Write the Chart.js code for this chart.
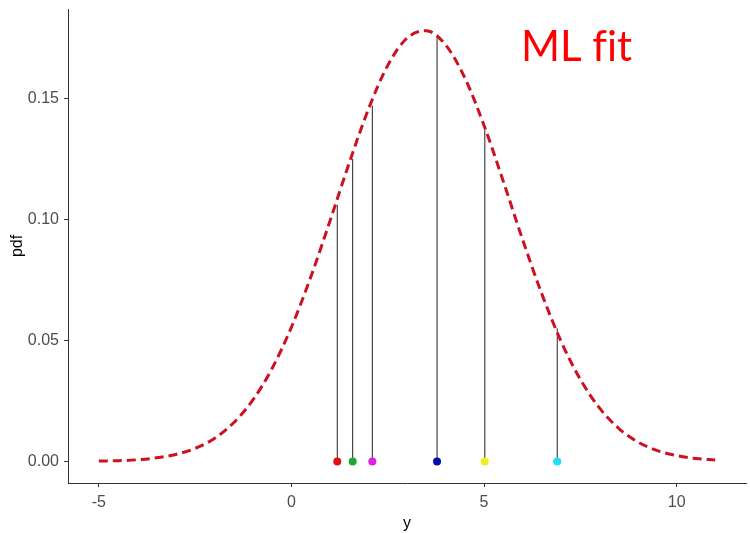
<!DOCTYPE html>
<html>
<head>
<meta charset="utf-8">
<script src="https://cdn.jsdelivr.net/npm/chart.js@4/dist/chart.umd.min.js"></script>
<style>
  html, body { margin: 0; padding: 0; background: #fff; }
  #wrap { width: 750px; height: 533px; }
</style>
</head>
<body>
<div id="wrap"><canvas id="c" width="750" height="533"></canvas></div>
<script>
// Fitted normal density, sampled along y
const curveX = [-5, -4.5, -4, -3.5, -3, -2.5, -2, -1.5, -1, -0.5, 0, 0.5, 1, 1.5, 2, 2.5, 3,
                3.5, 4, 4.5, 5, 5.5, 6, 6.5, 7, 7.5, 8, 8.5, 9, 9.5, 10, 10.5, 11];
const curvePdf = [0.0002, 0.0003, 0.0007, 0.0015, 0.0029, 0.0054, 0.0095, 0.0160, 0.0254, 0.0385,
                  0.0555, 0.0761, 0.0993, 0.1233, 0.1456, 0.1636, 0.1749, 0.1779, 0.1721, 0.1585,
                  0.1388, 0.1157, 0.0917, 0.0692, 0.0496, 0.0339, 0.0220, 0.0136, 0.0080, 0.0045,
                  0.0024, 0.0012, 0.0006];

// Observations and their density under the fit
const obsY = [1.19, 1.59, 2.10, 3.78, 5.02, 6.90];
const obsPdf = [0.106, 0.125, 0.147, 0.175, 0.137, 0.055];
const obsColors = ['#E01010', '#20A830', '#E020E0', '#0010B0', '#F0F020', '#20E0F0'];

const xTicks = [-5, 0, 5, 10];
const yTicks = [0, 0.05, 0.10, 0.15];

const curvePoints = curveX.map((x, i) => ({ x: x, y: curvePdf[i] }));
const stemPoints = [];
obsY.forEach((x, i) => {
  stemPoints.push({ x: x, y: 0 }, { x: x, y: obsPdf[i] }, { x: x, y: null });
});
const obsPoints = obsY.map(x => ({ x: x, y: 0 }));

// "ML fit" caption, drawn piecewise so "fi" stays two separate letters
const labelPlugin = {
  id: 'mlLabel',
  afterDraw(chart) {
    const ctx = chart.ctx;
    ctx.save();
    ctx.font = '42px Lato, "Open Sans", sans-serif';
    ctx.fillStyle = '#FF0000';
    ctx.textBaseline = 'alphabetic';
    ctx.textAlign = 'left';
    let x = 521;
    const y = 61;
    ['ML ', 'f', 'it'].forEach(part => {
      ctx.fillText(part, x, y);
      x += ctx.measureText(part).width;
    });
    ctx.restore();
  }
};

const axisColor = '#333333';
const tickFont = { family: '"Liberation Sans", Arial, sans-serif', size: 16 };

new Chart(document.getElementById('c'), {
  type: 'scatter',
  data: {
    datasets: [
      {
        data: obsPoints,
        pointRadius: 4,
        pointHoverRadius: 4,
        pointBackgroundColor: obsColors,
        pointBorderColor: obsColors,
        pointBorderWidth: 0,
        showLine: false
      },
      {
        data: curvePoints,
        showLine: true,
        borderColor: '#CC1122',
        borderWidth: 3,
        borderDash: [9, 5],
        borderCapStyle: 'butt',
        cubicInterpolationMode: 'monotone',
        pointRadius: 0
      },
      {
        data: stemPoints,
        showLine: true,
        spanGaps: false,
        borderColor: '#222222',
        borderWidth: 1,
        pointRadius: 0
      }
    ]
  },
  options: {
    responsive: false,
    animation: false,
    events: [],
    layout: { padding: { left: 0, right: 2, top: 9, bottom: 0 } },
    plugins: { legend: { display: false }, tooltip: { enabled: false } },
    scales: {
      x: {
        type: 'linear',
        min: -5.8,
        max: 11.8,
        afterBuildTicks: s => { s.ticks = xTicks.map(v => ({ value: v })); },
        afterFit: s => { s.height = 50; s.paddingLeft = 0; s.paddingRight = 0; },
        border: { display: true, color: axisColor, width: 1 },
        grid: { display: true, drawOnChartArea: false, drawTicks: true, tickLength: 4, color: axisColor },
        ticks: { color: '#4D4D4D', font: tickFont, padding: 6, maxRotation: 0,
                 callback: v => String(v) },
        title: { display: true, text: 'y', color: '#000', font: tickFont, padding: { top: 0, bottom: 0 } }
      },
      y: {
        type: 'linear',
        min: -0.0089,
        max: 0.1869,
        afterBuildTicks: s => { s.ticks = yTicks.map(v => ({ value: v })); },
        afterFit: s => { s.width = 68; s.paddingTop = 0; s.paddingBottom = 0; },
        border: { display: true, color: axisColor, width: 1 },
        grid: { display: true, drawOnChartArea: false, drawTicks: true, tickLength: 4, color: axisColor },
        ticks: { color: '#4D4D4D', font: tickFont, padding: 5,
                 callback: v => Number(v).toFixed(2) },
        title: { display: true, text: 'pdf', color: '#000', font: tickFont, padding: { top: 8, bottom: 0 } }
      }
    }
  },
  plugins: [labelPlugin]
});
</script>
</body>
</html>
